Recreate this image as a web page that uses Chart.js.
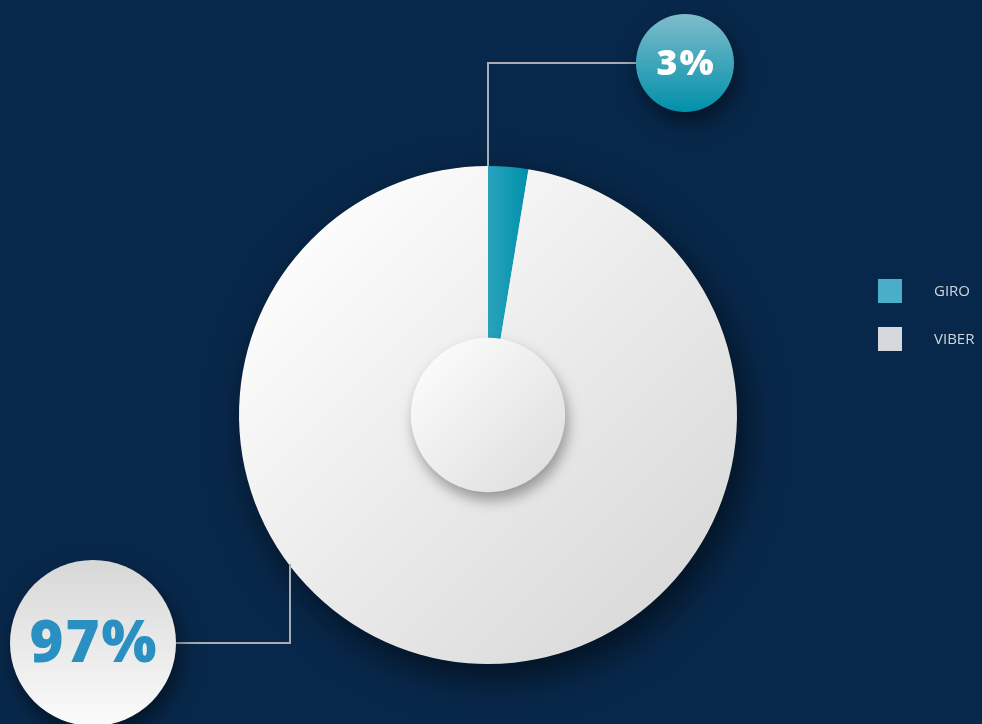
<!DOCTYPE html>
<html>
<head>
<meta charset="utf-8">
<script src="https://cdn.jsdelivr.net/npm/chart.js@4.4.1/dist/chart.umd.min.js"></script>
<style>
  html, body { margin: 0; padding: 0; background: #08284b; }
  #wrap { width: 982px; height: 724px; position: relative; }
</style>
</head>
<body>
<div id="wrap"><canvas id="pie" width="982" height="724"></canvas></div>
<script>
// ── Data ─────────────────────────────────────────────
const labels       = ["GIRO", "VIBER"];
const values       = [2.6, 97.4];
const legendColors = ["#4aaec8", "#d5d8dd"];

function sliceFill(ctx) {
  const area = ctx.chart.chartArea;
  if (!area) return "#ccc";
  const c = ctx.chart.ctx;
  if (ctx.dataIndex === 0) {
    const g = c.createLinearGradient(area.left + area.width / 2, 0, area.left + area.width / 2 + 40, 0);
    g.addColorStop(0, "#2aa3bd");
    g.addColorStop(1, "#0091aa");
    return g;
  }
  const g = c.createLinearGradient(area.left + 40, area.top + 40, area.right - 40, area.bottom - 40);
  g.addColorStop(0, "#ffffff");
  g.addColorStop(0.5, "#ebebeb");
  g.addColorStop(1, "#d8d8d8");
  return g;
}

function circle(c, x, y, r) {
  c.beginPath();
  c.arc(x, y, r, 0, Math.PI * 2);
  c.closePath();
}

// ── Decorations: shadow, hub, leader lines, bubbles, legend ──
const decoPlugin = {
  id: "deco",
  beforeDatasetsDraw(chart) {
    const arc = chart.getDatasetMeta(0).data[0];
    const c = chart.ctx;
    c.save();
    c.shadowColor = "rgba(0,0,0,0.6)";
    c.shadowBlur = 40;
    c.shadowOffsetX = 8;
    c.shadowOffsetY = 14;
    c.fillStyle = "#d8d8d8";
    circle(c, arc.x, arc.y, arc.outerRadius - 1);
    c.fill();
    c.restore();
  },
  afterDatasetsDraw(chart) {
    const meta = chart.getDatasetMeta(0);
    const arc = meta.data[0];
    const cx = arc.x, cy = arc.y, R = arc.outerRadius;
    const c = chart.ctx;
    const total = values.reduce((a, b) => a + b, 0);

    // centre hub
    const hubR = R * 0.31;
    c.save();
    c.shadowColor = "rgba(0,0,0,0.35)";
    c.shadowBlur = 14;
    c.shadowOffsetX = 3;
    c.shadowOffsetY = 8;
    const hg = c.createLinearGradient(cx - hubR, cy - hubR, cx + hubR, cy + hubR);
    hg.addColorStop(0, "#ffffff");
    hg.addColorStop(1, "#dcdcdc");
    c.fillStyle = hg;
    circle(c, cx, cy, hubR);
    c.fill();
    c.restore();

    // leader lines
    c.save();
    c.strokeStyle = "#a9adb3";
    c.lineWidth = 2;
    const sa = arc.startAngle;
    const gx = cx + Math.cos(sa) * R, gy = cy + Math.sin(sa) * R;
    const b1 = { x: 685, y: 63, r: 49 };
    c.beginPath();
    c.moveTo(gx, gy);
    c.lineTo(gx, b1.y);
    c.lineTo(b1.x, b1.y);
    c.stroke();
    const ex = 290;
    const ey = cy + Math.sqrt(R * R - (cx - ex) * (cx - ex));
    const b2 = { x: 93, y: 643, r: 83 };
    c.beginPath();
    c.moveTo(ex, ey - 2);
    c.lineTo(ex, b2.y);
    c.lineTo(b2.x, b2.y);
    c.stroke();
    c.restore();

    // bubbles
    const bubbles = [
      { b: b1, top: "#7fbccb", bottom: "#0090aa", text: "#ffffff", size: 36 },
      { b: b2, top: "#d7d7d7", bottom: "#fbfbfb", text: "#2a90c2", size: 58 },
    ];
    bubbles.forEach((bb, i) => {
      const { x, y, r } = bb.b;
      c.save();
      c.shadowColor = "rgba(0,0,0,0.5)";
      c.shadowBlur = 22;
      c.shadowOffsetX = 4;
      c.shadowOffsetY = 10;
      const g = c.createLinearGradient(0, y - r, 0, y + r);
      g.addColorStop(0, bb.top);
      g.addColorStop(1, bb.bottom);
      c.fillStyle = g;
      circle(c, x, y, r);
      c.fill();
      c.restore();

      c.save();
      c.fillStyle = bb.text;
      c.font = `800 ${bb.size}px "Open Sans", sans-serif`;
      c.textAlign = "center";
      c.textBaseline = "middle";
      if ("letterSpacing" in c) c.letterSpacing = "2px";
      const pct = Math.round(values[i] / total * 100) + "%";
      c.fillText(pct, x + 1, y + 2);
      c.restore();
    });

    // legend
    c.save();
    c.font = '15px "Open Sans", sans-serif';
    c.textBaseline = "middle";
    labels.forEach((lab, i) => {
      const y = 279 + i * 48;
      c.fillStyle = legendColors[i];
      c.fillRect(878, y, 24, 24);
      c.fillStyle = "#cfd6de";
      c.fillText(lab, 934, y + 13);
    });
    c.restore();
  }
};

new Chart(document.getElementById("pie").getContext("2d"), {
  type: "pie",
  data: {
    labels,
    datasets: [{
      data: values,
      backgroundColor: sliceFill,
      borderWidth: 0,
    }],
  },
  options: {
    responsive: false,
    animation: false,
    layout: { padding: { top: 166, bottom: 60, left: 239, right: 245 } },
    plugins: {
      legend: { display: false },
      tooltip: { enabled: false },
    },
  },
  plugins: [decoPlugin],
});
</script>
</body>
</html>
